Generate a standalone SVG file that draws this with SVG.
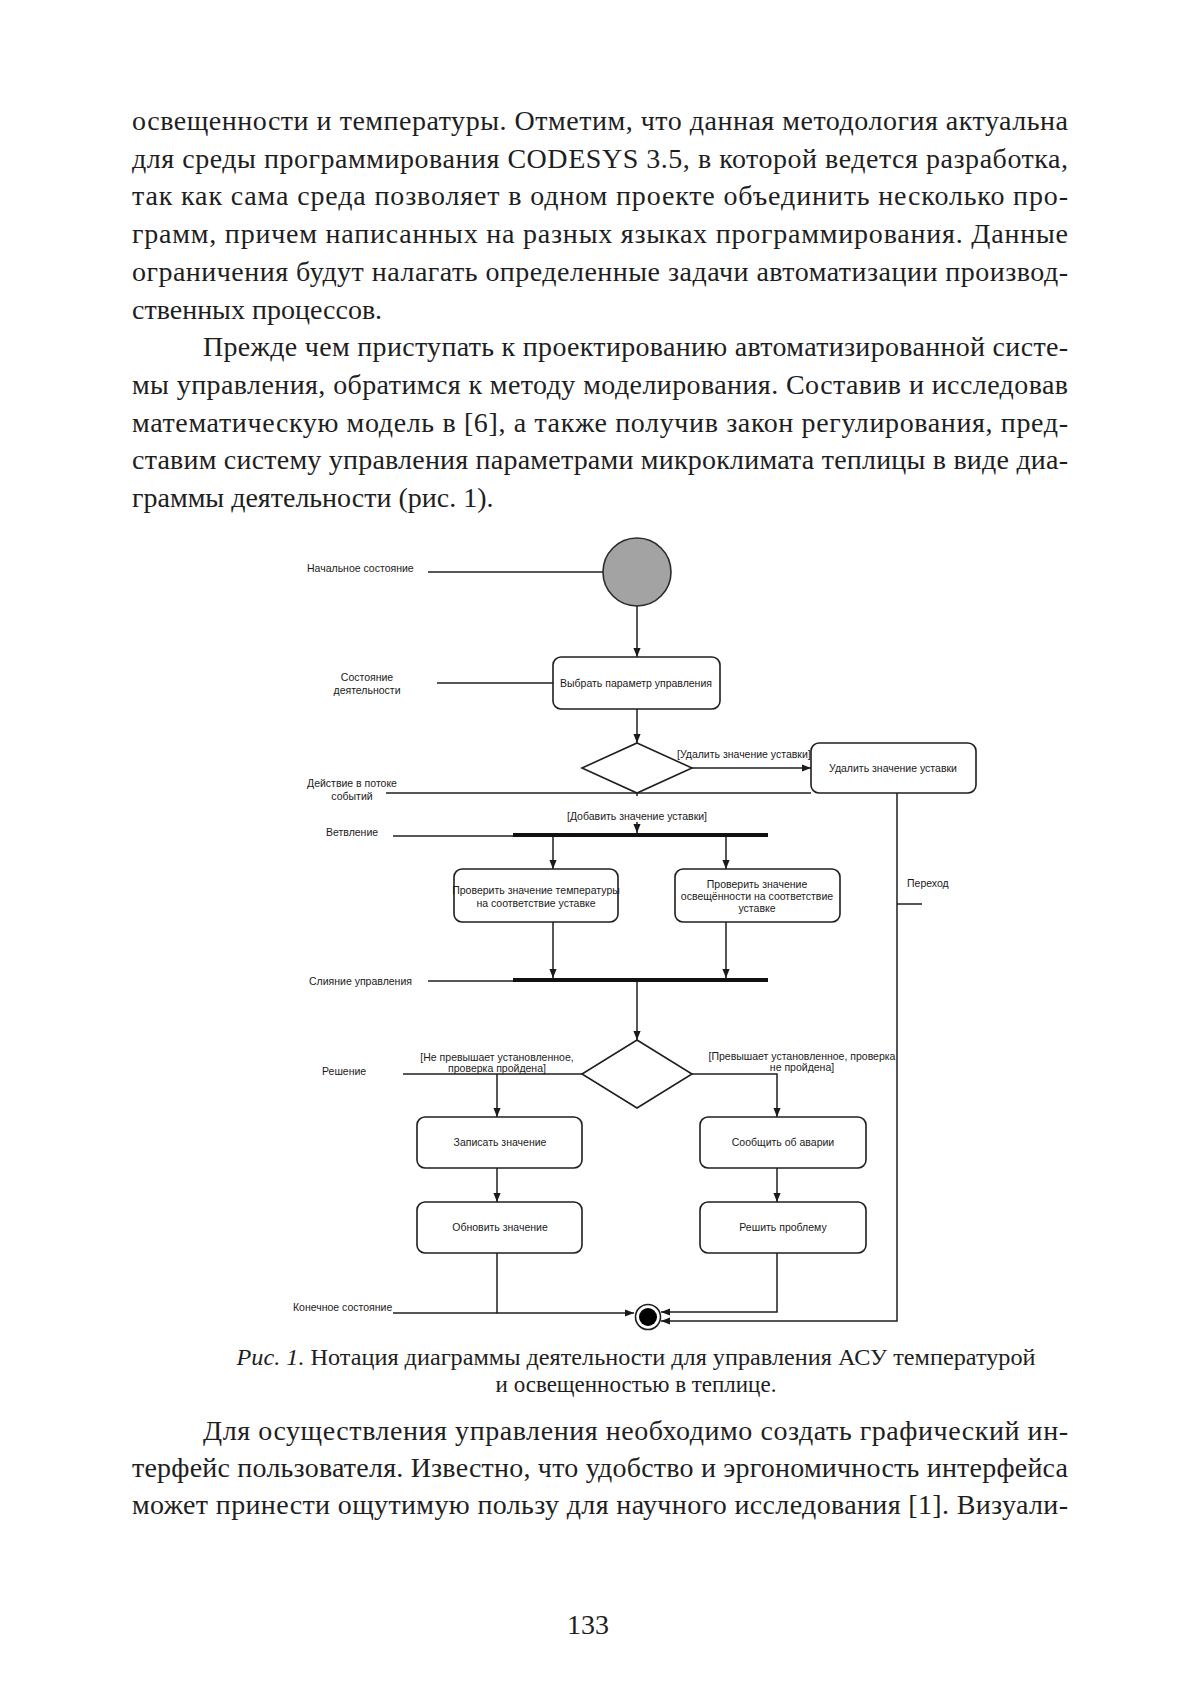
<svg xmlns="http://www.w3.org/2000/svg" width="1200" height="1698" viewBox="0 0 1200 1698">
<defs>
<style>
.body{font-family:"Liberation Serif","Times New Roman",serif;font-size:28px;fill:#1e1e1e}
.cap{font-family:"Liberation Serif","Times New Roman",serif;font-size:23px;fill:#1e1e1e}
.lbl{font-family:"Liberation Sans",Arial,sans-serif;font-size:10.5px;fill:#1a1a1a}
.mid{text-anchor:middle}
.box{fill:#ffffff;stroke:#1f1f1f;stroke-width:1.6}
.ln{fill:none;stroke:#1f1f1f;stroke-width:1.5}
.bar{fill:#111111}
</style>
<marker id="arr" viewBox="0 0 10 10" refX="10" refY="5" markerWidth="9" markerHeight="9" markerUnits="userSpaceOnUse" orient="auto">
<path d="M0,1 L10,5 L0,9 z" fill="#1a1a1a"/>
</marker>
</defs>
<rect width="1200" height="1698" fill="#ffffff"/>

<g id="page-text">
<text class="body" x="132" y="130" textLength="936" lengthAdjust="spacing">освещенности и температуры. Отметим, что данная методология актуальна</text>
<text class="body" x="132" y="167.7" textLength="936" lengthAdjust="spacing">для среды программирования CODESYS 3.5, в которой ведется разработка,</text>
<text class="body" x="132" y="205.4" textLength="936" lengthAdjust="spacing">так как сама среда позволяет в одном проекте объединить несколько про-</text>
<text class="body" x="132" y="243.1" textLength="936" lengthAdjust="spacing">грамм, причем написанных на разных языках программирования. Данные</text>
<text class="body" x="132" y="280.8" textLength="936" lengthAdjust="spacing">ограничения будут налагать определенные задачи автоматизации производ-</text>
<text class="body" x="132" y="318.5">ственных процессов.</text>
<text class="body" x="203" y="356.2" textLength="865" lengthAdjust="spacing">Прежде чем приступать к проектированию автоматизированной систе-</text>
<text class="body" x="132" y="393.9" textLength="936" lengthAdjust="spacing">мы управления, обратимся к методу моделирования. Составив и исследовав</text>
<text class="body" x="132" y="431.6" textLength="936" lengthAdjust="spacing">математическую модель в [6], а также получив закон регулирования, пред-</text>
<text class="body" x="132" y="469.3" textLength="936" lengthAdjust="spacing">ставим систему управления параметрами микроклимата теплицы в виде диа-</text>
<text class="body" x="132" y="507">граммы деятельности (рис. 1).</text>

<text class="cap mid" x="636" y="1365" textLength="799" lengthAdjust="spacingAndGlyphs"><tspan font-style="italic">Рис. 1.</tspan> Нотация диаграммы деятельности для управления АСУ температурой</text>
<text class="cap mid" x="636" y="1392">и освещенностью в теплице.</text>

<text class="body" x="203" y="1440" textLength="865" lengthAdjust="spacing">Для осуществления управления необходимо создать графический ин-</text>
<text class="body" x="132" y="1477" textLength="936" lengthAdjust="spacing">терфейс пользователя. Известно, что удобство и эргономичность интерфейса</text>
<text class="body" x="132" y="1514" textLength="936" lengthAdjust="spacing">может принести ощутимую пользу для научного исследования [1]. Визуали-</text>

<text class="body mid" x="588" y="1634">133</text>
</g>

<g id="connectors">
<line class="ln" x1="637" y1="606" x2="637" y2="657" marker-end="url(#arr)"/>
<line class="ln" x1="637" y1="709" x2="637" y2="743" marker-end="url(#arr)"/>
<line class="ln" x1="692" y1="768" x2="811" y2="768" marker-end="url(#arr)"/>
<line class="ln" x1="637" y1="793" x2="637" y2="833" marker-end="url(#arr)"/>
<line class="ln" x1="553" y1="837" x2="553" y2="869" marker-end="url(#arr)"/>
<line class="ln" x1="726" y1="837" x2="726" y2="869" marker-end="url(#arr)"/>
<line class="ln" x1="553" y1="922" x2="553" y2="978" marker-end="url(#arr)"/>
<line class="ln" x1="726" y1="922" x2="726" y2="978" marker-end="url(#arr)"/>
<line class="ln" x1="637" y1="982" x2="637" y2="1040" marker-end="url(#arr)"/>
<line class="ln" x1="582" y1="1074" x2="497" y2="1074"/>
<line class="ln" x1="497" y1="1074" x2="497" y2="1117" marker-end="url(#arr)"/>
<polyline class="ln" points="692,1074 777,1074 777,1117" marker-end="url(#arr)"/>
<line class="ln" x1="497" y1="1168" x2="497" y2="1202" marker-end="url(#arr)"/>
<line class="ln" x1="777" y1="1168" x2="777" y2="1202" marker-end="url(#arr)"/>
<polyline class="ln" points="497,1253 497,1313 634,1313" marker-end="url(#arr)"/>
<polyline class="ln" points="777,1253 777,1312 661,1312" marker-end="url(#arr)"/>
<polyline class="ln" points="897,793 897,1321 661,1321" marker-end="url(#arr)"/>
<rect x="566" y="796" width="142" height="26" fill="#ffffff"/>
<text class="lbl mid" x="637" y="820">[Добавить значение уставки]</text>
<text class="lbl" x="677" y="758">[Удалить значение уставки]</text>
<text class="lbl mid" x="497" y="1061">[Не превышает установленное,</text>
<text class="lbl mid" x="497" y="1072">проверка пройдена]</text>
<text class="lbl mid" x="802" y="1060">[Превышает установленное, проверка</text>
<text class="lbl mid" x="802" y="1071">не пройдена]</text>
</g>

<g id="annotations">
<text class="lbl" x="307" y="572">Начальное состояние</text>
<line class="ln" x1="428" y1="572" x2="603" y2="572"/>
<text class="lbl mid" x="367" y="681">Состояние</text>
<text class="lbl mid" x="367" y="694">деятельности</text>
<line class="ln" x1="437" y1="683" x2="553" y2="683"/>
<text class="lbl mid" x="352" y="787">Действие в потоке</text>
<text class="lbl mid" x="352" y="800">событий</text>
<line class="ln" x1="386" y1="793" x2="811" y2="793"/>
<text class="lbl" x="326" y="836">Ветвление</text>
<line class="ln" x1="393" y1="836" x2="513" y2="836"/>
<text class="lbl" x="309" y="985">Слияние управления</text>
<line class="ln" x1="428" y1="981" x2="513" y2="981"/>
<text class="lbl" x="322" y="1075">Решение</text>
<line class="ln" x1="403" y1="1074" x2="497" y2="1074"/>
<text class="lbl" x="293" y="1311">Конечное состояние</text>
<line class="ln" x1="393" y1="1313" x2="497" y2="1313"/>
<text class="lbl" x="907" y="887">Переход</text>
<line class="ln" x1="897" y1="904" x2="922" y2="904"/>
</g>

<g id="start">
<circle cx="637" cy="572" r="34" fill="#a3a3a3" stroke="#2a2a2a" stroke-width="1.6"/>
</g>

<g id="select-param">
<rect class="box" x="553" y="657" width="167" height="52" rx="8"/>
<text class="lbl mid" x="636" y="687">Выбрать параметр управления</text>
</g>

<g id="decision1">
<polygon class="box" points="637,743 692,768 637,793 582,768"/>
</g>

<g id="delete-setpoint">
<rect class="box" x="811" y="743" width="165" height="50" rx="8"/>
<text class="lbl mid" x="893" y="772">Удалить значение уставки</text>
</g>

<g id="fork">
<rect class="bar" x="513" y="833" width="255" height="4"/>
</g>

<g id="check-temp">
<rect class="box" x="454" y="869" width="164" height="53" rx="8"/>
<text class="lbl mid" x="536" y="894">Проверить значение температуры</text>
<text class="lbl mid" x="536" y="907">на соответствие уставке</text>
</g>

<g id="check-light">
<rect class="box" x="675" y="869" width="165" height="53" rx="8"/>
<text class="lbl mid" x="757" y="888">Проверить значение</text>
<text class="lbl mid" x="757" y="900">освещённости на соответствие</text>
<text class="lbl mid" x="757" y="912">уставке</text>
</g>

<g id="merge">
<rect class="bar" x="513" y="978" width="255" height="4"/>
</g>

<g id="decision2">
<polygon class="box" points="637,1040 692,1074 637,1108 582,1074"/>
</g>

<g id="write-value">
<rect class="box" x="417" y="1117" width="165" height="51" rx="8"/>
<text class="lbl mid" x="500" y="1146">Записать значение</text>
</g>

<g id="update-value">
<rect class="box" x="417" y="1202" width="165" height="51" rx="8"/>
<text class="lbl mid" x="500" y="1231">Обновить значение</text>
</g>

<g id="report-alarm">
<rect class="box" x="700" y="1117" width="166" height="51" rx="8"/>
<text class="lbl mid" x="783" y="1146">Сообщить об аварии</text>
</g>

<g id="solve-problem">
<rect class="box" x="700" y="1202" width="166" height="51" rx="8"/>
<text class="lbl mid" x="783" y="1231">Решить проблему</text>
</g>

<g id="end">
<circle cx="648" cy="1317" r="12.5" fill="#ffffff" stroke="#1f1f1f" stroke-width="1.6"/>
<circle cx="648" cy="1317" r="9" fill="#000000"/>
</g>
</svg>
